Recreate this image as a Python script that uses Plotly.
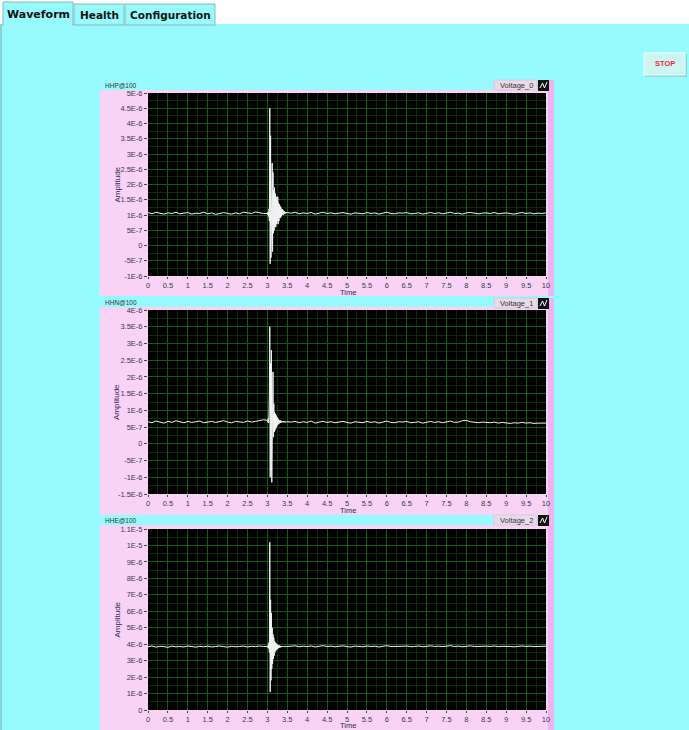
import plotly.graph_objects as go

# ---------------- data (amplitude values in units of 1E-7) ----------------
t_a = [i / 10 for i in range(30)]            # 0.0 .. 2.9 s
t_s = [3 + i / 100 for i in range(51)]       # 3.00 .. 3.50 s (event window)
t_b = [3.6 + i / 10 for i in range(65)]      # 3.6 .. 10.0 s
time_s = t_a + t_s + t_b

hhp_a = [10.8, 10.4, 10.9, 10.6, 10.3, 10.7, 10.5, 10.9, 10.4, 10.6,
         10.8, 10.3, 10.6, 10.5, 10.9, 10.4, 10.7, 10.2, 10.6, 10.8,
         10.5, 10.3, 10.7, 10.4, 10.9, 10.6, 10.5, 11.0, 10.7, 10.5]
hhp_s = [10.5, 10.0, 11.0, 9.5, 12.0, 8.0, 45.0, -6.0, 36.0, -4.0,
         20.0, 2.0, 27.0, -2.0, 24.0, 4.0, 18.0, 5.0, 19.0, 6.0,
         17.0, 6.0, 16.0, 7.0, 15.0, 8.0, 16.0, 7.0, 14.0, 8.0,
         13.5, 9.0, 13.0, 9.0, 12.5, 9.5, 12.0, 10.0, 11.8, 10.0,
         11.5, 10.2, 11.3, 10.4, 11.0, 10.5, 11.0, 10.6, 10.9, 10.7,
         10.8]
hhp_b = [10.6, 10.9, 10.4, 10.7, 10.5, 10.8, 10.3, 10.6, 10.9, 10.5,
         10.7, 10.4, 10.6, 10.8, 10.5, 10.3, 10.7, 10.6, 10.4, 10.8,
         10.5, 10.7, 10.3, 10.6, 10.9, 10.5, 10.4, 10.7, 10.6, 10.8,
         10.4, 10.5, 10.7, 10.3, 10.6, 10.8, 10.5, 10.7, 10.4, 10.6,
         10.9, 10.5, 10.6, 10.3, 10.7, 10.8, 10.5, 10.4, 10.6, 10.7,
         10.5, 10.8, 10.4, 10.6, 10.7, 10.5, 10.3, 10.6, 10.8, 10.5,
         10.7, 10.4, 10.6, 10.5, 10.7]

hhn_a = [6.6, 6.3, 6.8, 6.5, 6.2, 6.7, 6.4, 6.9, 6.5, 6.3,
         6.7, 6.4, 6.6, 6.8, 6.3, 6.5, 6.7, 6.4, 6.6, 6.9,
         6.5, 6.3, 6.7, 6.6, 6.4, 6.8, 6.5, 6.7, 6.9, 7.2]
hhn_s = [7.0, 6.5, 7.5, 6.2, 9.0, 14.0, 35.0, -10.0, 24.0, -8.0,
         28.0, -11.5, 18.0, 0.0, 21.5, 2.0, 12.0, 3.5, 9.5, 4.0,
         9.0, 4.5, 8.5, 5.0, 8.0, 5.5, 7.6, 5.8, 7.3, 6.0,
         7.1, 6.2, 7.0, 6.3, 6.9, 6.4, 6.8, 6.4, 6.7, 6.5,
         6.8, 6.4, 6.7, 6.5, 6.6, 6.4, 6.7, 6.5, 6.6, 6.5,
         6.6]
hhn_b = [6.5, 6.7, 6.3, 6.6, 6.4, 6.8, 6.2, 6.5, 6.7, 6.4,
         6.6, 6.3, 6.5, 6.7, 6.4, 6.2, 6.6, 6.5, 6.3, 6.7,
         6.4, 6.6, 6.2, 6.5, 6.8, 6.4, 6.3, 6.6, 6.5, 6.7,
         6.3, 6.4, 6.6, 6.2, 6.5, 6.7, 6.4, 6.6, 6.3, 6.5,
         6.8, 6.4, 6.5, 6.9, 7.0, 6.6, 6.4, 6.3, 6.5, 6.4,
         6.3, 6.5, 6.2, 6.4, 6.3, 6.1, 6.3, 6.2, 6.4, 6.2,
         6.3, 6.1, 6.2, 6.3, 6.2]

hhe_a = [38.4, 38.9, 38.2, 38.7, 38.5, 38.1, 38.8, 38.4, 38.6, 38.3,
         38.9, 38.5, 38.2, 38.7, 38.4, 38.8, 38.3, 38.6, 38.9, 38.5,
         38.2, 38.7, 38.4, 38.6, 38.8, 38.3, 38.7, 38.5, 38.9, 38.6]
hhe_s = [38.5, 38.0, 39.5, 37.5, 41.0, 35.0, 102.0, 11.0, 67.0, 18.0,
         59.0, 25.0, 50.0, 28.0, 46.0, 31.0, 44.0, 33.0, 42.0, 35.0,
         41.0, 36.0, 40.5, 36.5, 40.0, 37.0, 39.5, 37.5, 39.3, 37.8,
         39.2, 38.0, 39.0, 38.1, 38.9, 38.2, 38.8, 38.3, 38.7, 38.4,
         38.8, 38.3, 38.7, 38.5, 38.6, 38.4, 38.8, 38.5, 38.6, 38.5,
         38.6]
hhe_b = [38.6, 39.0, 38.4, 38.8, 38.5, 38.9, 38.3, 38.7, 39.1, 38.6,
         38.8, 38.4, 38.7, 39.0, 38.5, 38.3, 38.8, 38.6, 38.4, 38.9,
         38.6, 38.8, 38.3, 38.7, 39.1, 38.6, 38.5, 38.8, 38.7, 38.9,
         38.5, 38.6, 38.9, 38.4, 38.7, 39.0, 38.6, 38.8, 38.5, 38.7,
         39.1, 38.6, 38.8, 38.4, 38.9, 39.0, 38.6, 38.5, 38.7, 38.8,
         38.6, 38.9, 38.5, 38.7, 38.8, 38.6, 38.4, 38.7, 38.9, 38.6,
         38.8, 38.5, 38.7, 38.6, 38.8]

UNIT = 1e-7
voltage_0 = [v * UNIT for v in hhp_a + hhp_s + hhp_b]
voltage_1 = [v * UNIT for v in hhn_a + hhn_s + hhn_b]
voltage_2 = [v * UNIT for v in hhe_a + hhe_s + hhe_b]

x_tick_vals = [0, 0.5, 1, 1.5, 2, 2.5, 3, 3.5, 4, 4.5, 5, 5.5, 6, 6.5, 7, 7.5, 8, 8.5, 9, 9.5, 10]
x_tick_text = ["0", "0.5", "1", "1.5", "2", "2.5", "3", "3.5", "4", "4.5", "5", "5.5",
               "6", "6.5", "7", "7.5", "8", "8.5", "9", "9.5", "10"]

y0_tick_vals = [5e-6, 4.5e-6, 4e-6, 3.5e-6, 3e-6, 2.5e-6, 2e-6, 1.5e-6, 1e-6, 5e-7, 0, -5e-7, -1e-6]
y0_tick_text = ["5E-6", "4.5E-6", "4E-6", "3.5E-6", "3E-6", "2.5E-6", "2E-6", "1.5E-6",
                "1E-6", "5E-7", "0", "-5E-7", "-1E-6"]
y1_tick_vals = [4e-6, 3.5e-6, 3e-6, 2.5e-6, 2e-6, 1.5e-6, 1e-6, 5e-7, 0, -5e-7, -1e-6, -1.5e-6]
y1_tick_text = ["4E-6", "3.5E-6", "3E-6", "2.5E-6", "2E-6", "1.5E-6", "1E-6", "5E-7",
                "0", "-5E-7", "-1E-6", "-1.5E-6"]
y2_tick_vals = [1.1e-5, 1e-5, 9e-6, 8e-6, 7e-6, 6e-6, 5e-6, 4e-6, 3e-6, 2e-6, 1e-6, 0]
y2_tick_text = ["1.1E-5", "1E-5", "9E-6", "8E-6", "7E-6", "6E-6", "5E-6", "4E-6",
                "3E-6", "2E-6", "1E-6", "0"]

channel_names = ["HHP@100", "HHN@100", "HHE@100"]
legend_names = ["Voltage_0", "Voltage_1", "Voltage_2"]
tab_names = ["Waveform", "Health", "Configuration"]

# ---------------- layout helpers ----------------
W, H = 689, 730
def px(x):
    return x / W
def py(y):
    return 1 - y / H

CYAN = "#97fbfd"
PINK = "#f9d3f6"
PINK_DARK = "#eeb4ee"
MAJOR = "#0d5e0d"
MINOR = "#072c07"
TXT = "#3a3a4a"
FONT = "Liberation Sans, Arial, sans-serif"

panels = [
    dict(pt=93, pb=276, kt=90, kb=296, lt=80, yr=[-1e-6, 5e-6], ymin=2.5e-7,
         tv=y0_tick_vals, tt=y0_tick_text, y=voltage_0, ty=292.5),
    dict(pt=310, pb=494, kt=307, kb=515, lt=298, yr=[-1.5e-6, 4e-6], ymin=2.5e-7,
         tv=y1_tick_vals, tt=y1_tick_text, y=voltage_1, ty=510.5),
    dict(pt=529, pb=710, kt=525, kb=730, lt=515, yr=[0, 1.1e-5], ymin=5e-7,
         tv=y2_tick_vals, tt=y2_tick_text, y=voltage_2, ty=725),
]
PL, PR = 148, 546

fig = go.Figure()
shapes = []
annotations = []

# white strip at top with tabs
shapes.append(dict(type="rect", xref="paper", yref="paper", x0=0, x1=1, y0=py(24), y1=1,
                   fillcolor="white", line=dict(width=0), layer="below"))
shapes.append(dict(type="line", xref="paper", yref="paper", x0=px(1), x1=px(1), y0=0, y1=py(24),
                   line=dict(color="#7fa9aa", width=1), layer="below"))
tabs = [(3, 73, 2), (74, 124, 4), (125, 215, 4)]
for (x0, x1, top), name in zip(tabs, tab_names):
    shapes.append(dict(type="rect", xref="paper", yref="paper", x0=px(x0), x1=px(x1),
                       y0=py(25), y1=py(top), fillcolor=CYAN,
                       line=dict(color="#8fb8b8", width=1), layer="below"))
    annotations.append(dict(text="<b>%s</b>" % name, xref="paper", yref="paper",
                            x=px((x0 + x1) / 2), y=py(15), showarrow=False,
                            xanchor="center", yanchor="middle",
                            font=dict(family="DejaVu Sans, sans-serif",
                                      size=11 if name == "Waveform" else 10.5, color="#111")))
shapes.append(dict(type="line", xref="paper", yref="paper", x0=px(4), x1=px(72), y0=py(25), y1=py(25),
                   line=dict(color=CYAN, width=2), layer="below"))

# STOP button
shapes.append(dict(type="rect", xref="paper", yref="paper", x0=px(645), x1=px(687),
                   y0=py(77), y1=py(54), fillcolor="#8fd8d6", line=dict(width=0), layer="below"))
shapes.append(dict(type="rect", xref="paper", yref="paper", x0=px(644), x1=px(685),
                   y0=py(75), y1=py(53), fillcolor="#cdf6f2", line=dict(color="#e9fffd", width=1),
                   layer="below"))
annotations.append(dict(text="<b>STOP</b>", xref="paper", yref="paper", x=px(665), y=py(64),
                        showarrow=False, xanchor="center", yanchor="middle",
                        font=dict(family=FONT, size=7.5, color="#f0283a")))

axis_common = dict(showline=False, zeroline=False, ticks="outside", ticklen=3, tickwidth=1,
                   tickcolor="#444", tickfont=dict(family=FONT, size=7.5, color=TXT),
                   gridcolor=MAJOR, gridwidth=1, fixedrange=True, automargin=False)

for i, p in enumerate(panels):
    n = i + 1
    xa = "xaxis" if n == 1 else "xaxis%d" % n
    ya = "yaxis" if n == 1 else "yaxis%d" % n
    xr = "x" if n == 1 else "x%d" % n
    yr = "y" if n == 1 else "y%d" % n

    shapes.append(dict(type="rect", xref="paper", yref="paper", x0=px(100), x1=px(553),
                       y0=py(p["kb"]), y1=py(p["kt"]), fillcolor=PINK, line=dict(width=0),
                       layer="below"))
    shapes.append(dict(type="rect", xref="paper", yref="paper", x0=px(548), x1=px(554),
                       y0=py(p["kb"]), y1=py(p["lt"]), fillcolor=PINK_DARK, line=dict(width=0),
                       layer="below"))
    shapes.append(dict(type="rect", xref="paper", yref="paper", x0=px(PL), x1=px(PR),
                       y0=py(p["pb"]), y1=py(p["pt"]), fillcolor="black", line=dict(width=0),
                       layer="below"))
    lt = p["lt"]
    shapes.append(dict(type="rect", xref="paper", yref="paper", x0=px(494), x1=px(537),
                       y0=py(lt + 10), y1=py(lt), fillcolor="#eadbe9",
                       line=dict(color="#d8c8d8", width=1), layer="below"))
    shapes.append(dict(type="rect", xref="paper", yref="paper", x0=px(538), x1=px(549),
                       y0=py(lt + 11), y1=py(lt), fillcolor="#111", line=dict(width=0),
                       layer="below"))
    gx = [540, 542.5, 544.5, 547]
    gy = [lt + 8, lt + 3, lt + 8, lt + 2]
    path = "M %f %f L %f %f L %f %f L %f %f" % (px(gx[0]), py(gy[0]), px(gx[1]), py(gy[1]),
                                                 px(gx[2]), py(gy[2]), px(gx[3]), py(gy[3]))
    shapes.append(dict(type="path", xref="paper", yref="paper", path=path,
                       line=dict(color="white", width=1)))
    annotations.append(dict(text=legend_names[i], xref="paper", yref="paper", x=px(535),
                            y=py(lt + 5), showarrow=False, xanchor="right", yanchor="middle",
                            font=dict(family=FONT, size=7.5, color="#333")))
    annotations.append(dict(text=channel_names[i], xref="paper", yref="paper", x=px(103),
                            y=py(p["kt"] - 5), showarrow=False, xanchor="left", yanchor="middle",
                            font=dict(family=FONT, size=6.5, color="#333")))
    annotations.append(dict(text="Amplitude", xref="paper", yref="paper", x=px(117),
                            y=py((p["pt"] + p["pb"]) / 2), showarrow=False, textangle=-90,
                            xanchor="center", yanchor="middle",
                            font=dict(family=FONT, size=8, color="#2a2a55")))
    annotations.append(dict(text="Time", xref="paper", yref="paper", x=px(348),
                            y=py(p["ty"]), showarrow=False, xanchor="center", borderpad=0,
                            yanchor="middle", font=dict(family=FONT, size=7.5, color="#2a2a55")))

    fig.add_trace(go.Scatter(x=time_s, y=p["y"], mode="lines", xaxis=xr, yaxis=yr,
                             line=dict(color="#f4f4f4", width=1), showlegend=False,
                             hoverinfo="skip"))

    fig.layout[xa] = dict(axis_common, domain=[px(PL), px(PR)], range=[0, 10], anchor=yr,
                          ticklen=2,
                          tickmode="array", tickvals=x_tick_vals, ticktext=x_tick_text,
                          showgrid=True,
                          minor=dict(tickmode="linear", tick0=0, dtick=0.25, showgrid=True,
                                     gridcolor=MINOR, ticks=""))
    fig.layout[ya] = dict(axis_common, domain=[py(p["pb"]), py(p["pt"])], range=p["yr"],
                          anchor=xr, tickmode="array", tickvals=p["tv"], ticktext=p["tt"],
                          showgrid=True,
                          minor=dict(tickmode="linear", tick0=0, dtick=p["ymin"], showgrid=True,
                                     gridcolor=MINOR, ticks=""))

fig.update_layout(width=W, height=H, autosize=False, margin=dict(l=0, r=0, t=0, b=0, pad=0),
                  paper_bgcolor=CYAN, plot_bgcolor="rgba(0,0,0,0)",
                  shapes=shapes, annotations=annotations, showlegend=False)

css = ("var s=document.createElement('style');"
       "s.innerHTML='html,body{margin:0 !important;padding:0 !important;overflow:hidden !important;}';"
       "document.head.appendChild(s);")
fig.write_html("out.html", config={"displayModeBar": False, "responsive": False}, post_script=css)
